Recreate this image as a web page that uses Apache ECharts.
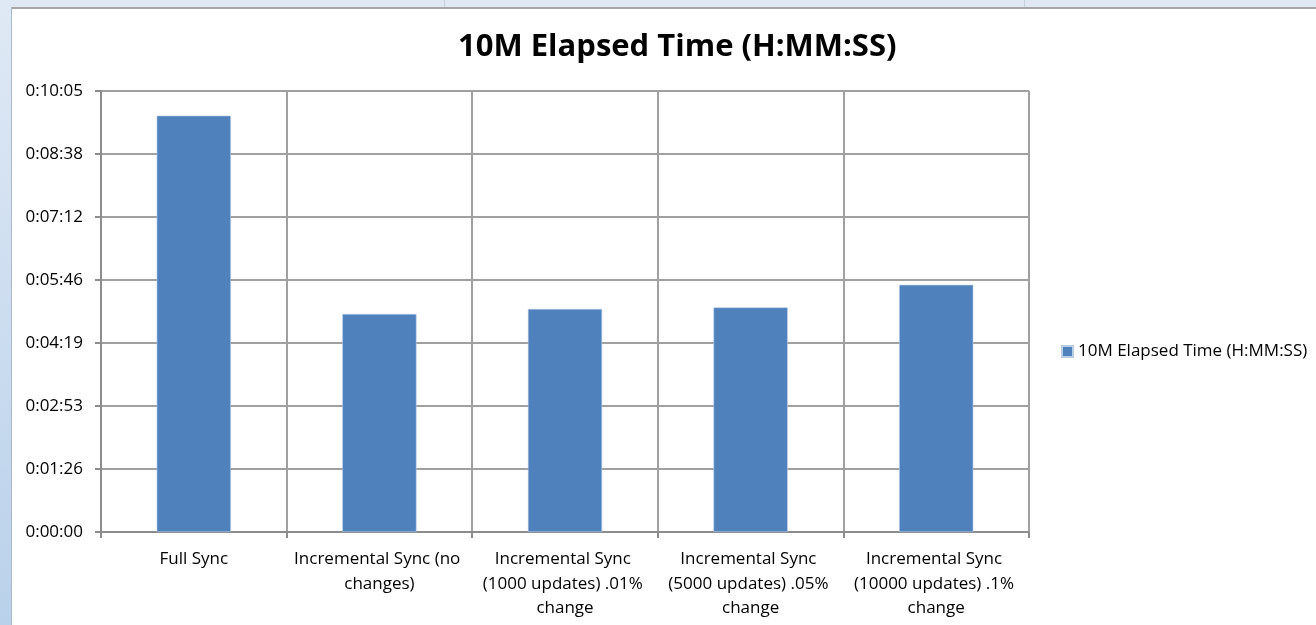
<!DOCTYPE html>
<html>
<head>
<meta charset="utf-8">
<script src="https://cdn.jsdelivr.net/npm/echarts@6/dist/echarts.min.js"></script>
<style>
  html, body { margin: 0; padding: 0; background: #ffffff; }
  #chart { width: 1316px; height: 625px; }
</style>
</head>
<body>
<div id="chart"></div>
<script>
// Elapsed times in seconds for each sync run
const categories = [
  'Full Sync',
  'Incremental Sync (no changes)',
  'Incremental Sync (1000 updates) .01% change',
  'Incremental Sync (5000 updates) .05% change',
  'Incremental Sync (10000 updates) .1% change'
];
const elapsedSeconds = [571, 299, 306, 308, 339];
const seriesName = '10M Elapsed Time (H:MM:SS)';
const titleText = '10M Elapsed Time (H:MM:SS)';
// Axis steps of 0.001 day (86.4 s), as a spreadsheet time axis would use
const axisStep = 86.4;
const axisMax = 604.8;

function hms(sec) {
  const s = Math.round(sec);
  const h = Math.floor(s / 3600);
  const m = Math.floor((s % 3600) / 60);
  const r = s % 60;
  return h + ':' + String(m).padStart(2, '0') + ':' + String(r).padStart(2, '0');
}

const FONT = '"Open Sans", "Noto Sans", sans-serif';
const chart = echarts.init(document.getElementById('chart'));

chart.setOption({
  backgroundColor: '#ffffff',
  animation: false,
  title: {
    text: titleText,
    left: 453,
    top: 27,
    textStyle: { fontFamily: FONT, fontSize: 31, fontWeight: 'bold', color: '#000000' }
  },
  legend: {
    data: [seriesName],
    left: 1056,
    top: 338,
    icon: 'rect',
    itemWidth: 11,
    itemHeight: 11,
    itemGap: 5,
    textStyle: { fontFamily: FONT, fontSize: 17, color: '#000000' }
  },
  grid: { left: 101, right: 287, top: 91, bottom: 93 },
  xAxis: {
    type: 'category',
    data: categories,
    axisLine: { lineStyle: { color: '#8c8c8c', width: 2 } },
    axisTick: { show: true, length: 6, lineStyle: { color: '#8c8c8c', width: 2 } },
    splitLine: { show: true, lineStyle: { color: '#a0a0a0', width: 2 } },
    axisLabel: {
      interval: 0,
      fontFamily: FONT,
      fontSize: 17,
      color: '#000000',
      lineHeight: 24.5,
      margin: 15,
      width: 176,
      overflow: 'break'
    }
  },
  yAxis: {
    type: 'value',
    min: 0,
    max: axisMax,
    interval: axisStep,
    axisLine: { show: true, lineStyle: { color: '#8c8c8c', width: 2 } },
    axisTick: { show: true, length: 6, lineStyle: { color: '#8c8c8c', width: 2 } },
    splitLine: { show: true, lineStyle: { color: '#a0a0a0', width: 2 } },
    axisLabel: {
      fontFamily: FONT,
      fontSize: 17,
      color: '#000000',
      margin: 18,
      formatter: hms
    }
  },
  series: [{
    name: seriesName,
    type: 'bar',
    data: elapsedSeconds,
    barWidth: '40%',
    itemStyle: { color: '#4f81bd', borderColor: '#b9cde5', borderWidth: 0.6 }
  }],
  graphic: [
    // surrounding worksheet frame
    { type: 'rect', shape: { x: 0, y: 0, width: 1316, height: 7 }, style: { fill: '#dfe8f3' }, silent: true },
    { type: 'rect', shape: { x: 0, y: 7, width: 1316, height: 2 }, style: { fill: '#a6a6a6' }, silent: true },
    { type: 'rect', shape: { x: 444, y: 0, width: 1, height: 7 }, style: { fill: '#c8d3e0' }, silent: true },
    { type: 'rect', shape: { x: 1024, y: 0, width: 1, height: 7 }, style: { fill: '#c8d3e0' }, silent: true },
    {
      type: 'rect', shape: { x: 0, y: 0, width: 11, height: 625 },
      style: { fill: new echarts.graphic.LinearGradient(0, 0, 0, 1, [
        { offset: 0, color: '#dfe9f5' }, { offset: 1, color: '#b9d1ea' }
      ]) }, silent: true
    },
    { type: 'rect', shape: { x: 11, y: 7, width: 1, height: 618 }, style: { fill: '#aab8c8' }, silent: true }
  ]
});
</script>
</body>
</html>
